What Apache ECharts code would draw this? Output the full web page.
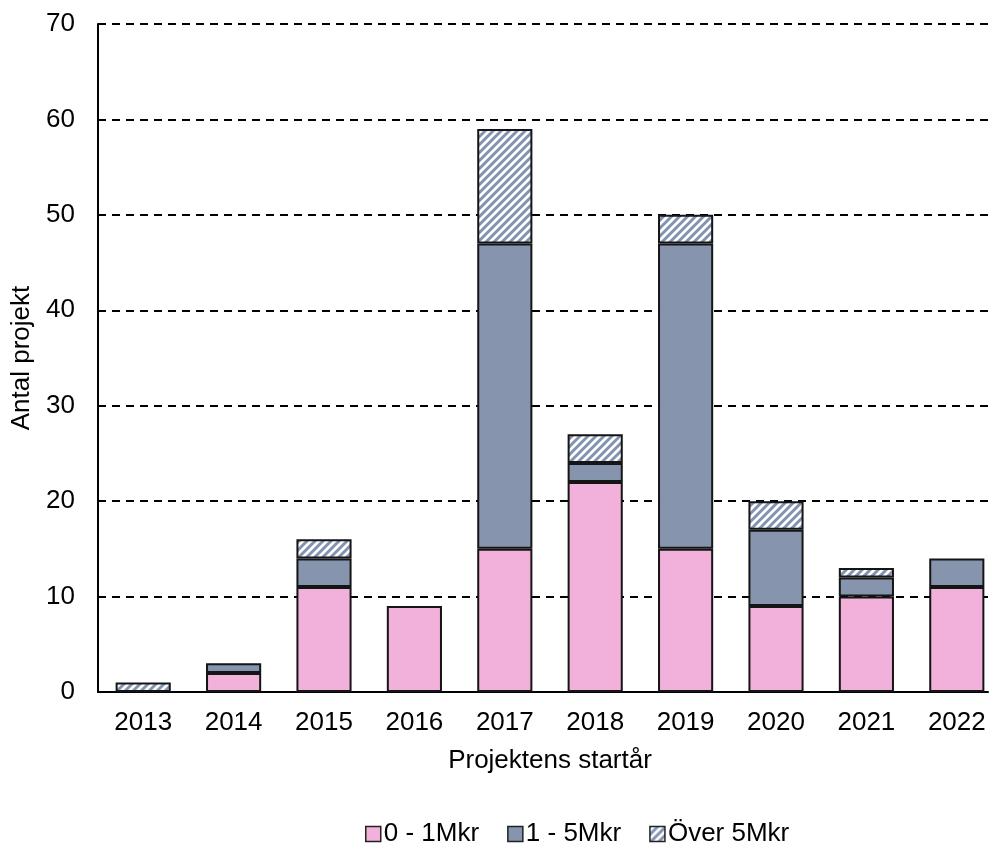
<!DOCTYPE html>
<html>
<head>
<meta charset="utf-8">
<script src="https://cdn.jsdelivr.net/npm/echarts@6/dist/echarts.min.js"></script>
<style>html,body{margin:0;padding:0;background:#fff;}#c{width:995px;height:843px;}</style>
</head>
<body>
<div id="c"></div>
<script>
var years = ['2013','2014','2015','2016','2017','2018','2019','2020','2021','2022'];
var small = [null, 2, 11, 9, 15, 22, 15, 9, 10, 11];
var mid = [null, 1, 3, null, 32, 2, 32, 8, 2, 3];
var large = [1, null, 2, null, 12, 3, 3, 3, 1, null];
var seriesNames = ['0 - 1Mkr', '1 - 5Mkr', 'Över 5Mkr'];

function hatch() {
  var s = 8;
  var c = document.createElement('canvas');
  c.width = s; c.height = s;
  var g = c.getContext('2d');
  g.fillStyle = '#ffffff';
  g.fillRect(0, 0, s, s);
  g.strokeStyle = '#8393b2';
  g.lineWidth = 3;
  g.beginPath();
  g.moveTo(-2, s + 2); g.lineTo(s + 2, -2);
  g.moveTo(-s / 2 - 2, s / 2 + 2); g.lineTo(s / 2 + 2, -s / 2 - 2);
  g.moveTo(s / 2 - 2, 1.5 * s + 2); g.lineTo(1.5 * s + 2, s / 2 - 2);
  g.stroke();
  return c;
}

var font = 'Liberation Sans, Arial, sans-serif';
var border = { borderColor: '#151515', borderWidth: 2 };
var chart = echarts.init(document.getElementById('c'), null, { renderer: 'canvas' });
chart.setOption({
  animation: false,
  backgroundColor: '#ffffff',
  textStyle: { fontFamily: font },
  grid: [
    { left: 98, top: 24, right: -7, bottom: 151, containLabel: false, outerBoundsMode: 'none' },
    { left: 98, top: 24, right: 7, bottom: 151, containLabel: false, outerBoundsMode: 'none' }
  ],
  legend: {
    left: 360, top: 816,
    icon: 'rect',
    itemWidth: 15, itemHeight: 15, itemGap: 28,
    itemStyle: { borderWidth: 1.5, borderColor: '#222' },
    textStyle: { fontSize: 26, color: '#000', fontFamily: font, padding: [0, 0, 0, -2] },
    data: seriesNames
  },
  xAxis: [{
    gridIndex: 0, type: 'category', data: years,
    name: 'Projektens startår', nameLocation: 'middle', nameGap: 56,
    nameTextStyle: { fontSize: 26, color: '#000', fontFamily: font },
    axisLine: { show: false },
    axisTick: { show: false },
    splitLine: { show: false },
    axisLabel: { fontSize: 26, color: '#000', margin: 18, fontFamily: font }
  }, {
    gridIndex: 1, type: 'category', data: years,
    axisLine: { show: true, lineStyle: { color: '#000', width: 2 } },
    axisTick: { show: false },
    axisLabel: { show: false },
    splitLine: { show: false }
  }],
  yAxis: [{
    gridIndex: 0, type: 'value', min: 0, max: 70, interval: 10,
    axisLine: { show: false }, axisTick: { show: false },
    axisLabel: { show: false }, splitLine: { show: false }
  }, {
    gridIndex: 1, type: 'value', min: 0, max: 70, interval: 10,
    name: 'Antal projekt', nameLocation: 'middle', nameGap: 61, nameRotate: 90,
    nameTextStyle: { fontSize: 26, color: '#000', fontFamily: font },
    axisLine: { show: true, lineStyle: { color: '#000', width: 2 } },
    axisTick: { show: false },
    axisLabel: { fontSize: 26, color: '#000', margin: 23, fontFamily: font },
    splitLine: { lineStyle: { color: '#000', type: [8, 6], width: 2 } }
  }],
  series: [
    { name: seriesNames[0], type: 'bar', stack: 's', data: small, barWidth: '61%', z: 3,
      itemStyle: Object.assign({ color: '#f1b1da' }, border) },
    { name: seriesNames[1], type: 'bar', stack: 's', data: mid, barWidth: '61%', z: 3,
      itemStyle: Object.assign({ color: '#8794ae' }, border) },
    { name: seriesNames[2], type: 'bar', stack: 's', data: large, barWidth: '61%', z: 3,
      itemStyle: Object.assign({ color: { image: hatch(), repeat: 'repeat' } }, border) }
  ]
});
</script>
</body>
</html>
